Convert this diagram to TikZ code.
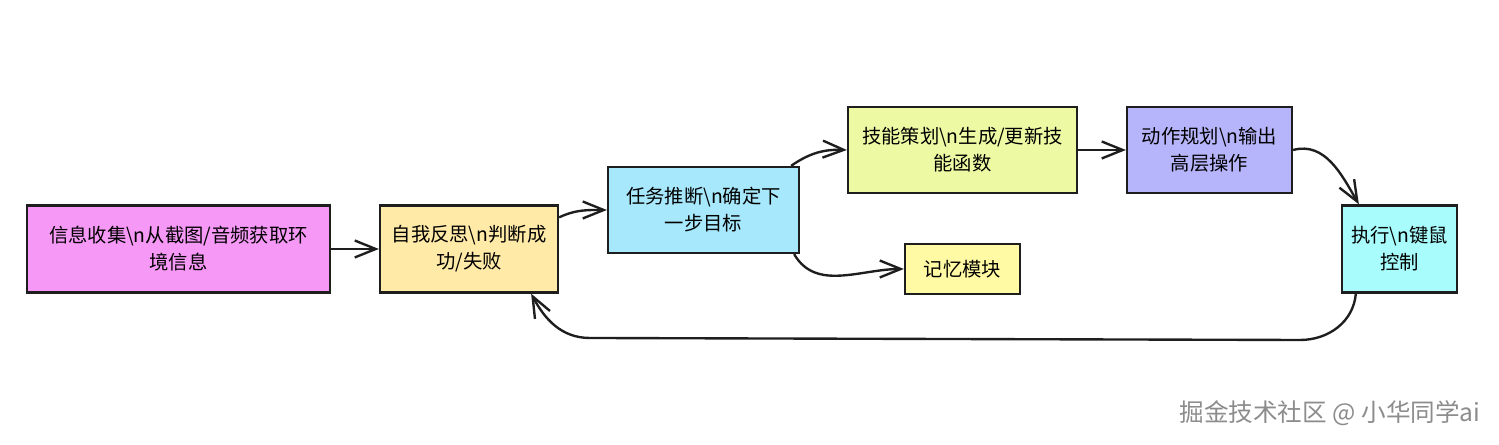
\documentclass[tikz,border=0pt]{standalone}
\usepackage{fontspec}
\setmainfont{Noto Sans CJK SC}
\usetikzlibrary{arrows.meta}

\definecolor{infocol}{RGB}{246,152,246}
\definecolor{reflectcol}{RGB}{255,234,167}
\definecolor{taskcol}{RGB}{167,232,252}
\definecolor{skillcol}{RGB}{238,250,163}
\definecolor{actioncol}{RGB}{182,180,250}
\definecolor{execcol}{RGB}{168,252,252}
\definecolor{memcol}{RGB}{255,250,163}
\definecolor{inkcol}{RGB}{30,30,30}

\begin{document}
\begin{tikzpicture}[x=0.02cm, y=0.02cm,
    font=\fontsize{11}{15.3}\selectfont,
    stage/.style={draw=inkcol, line width=1.3pt, align=center, inner sep=2pt, minimum height=1.74cm},
    flow/.style={draw=inkcol, line width=1.35pt, -{Straight Barb[length=4.2mm,width=3.4mm]}}
    ]
    \useasboundingbox (0,0) rectangle (1499,445);

    \node[stage, fill=infocol, minimum width=6.06cm] (info) at (178.5,196)
        {信息收集\textbackslash n从截图/音频获取环\\境信息};
    \node[stage, fill=reflectcol, minimum width=3.56cm] (reflect) at (469,196)
        {自我反思\textbackslash n判断成\\功/失败};
    \node[stage, fill=taskcol, minimum width=3.82cm, minimum height=1.72cm] (task) at (703.5,235)
        {任务推断\textbackslash n确定下\\一步目标};
    \node[stage, fill=skillcol, minimum width=4.58cm, minimum height=1.72cm] (skill) at (962.5,295)
        {技能策划\textbackslash n生成/更新技\\能函数};
    \node[stage, fill=actioncol, minimum width=3.3cm, minimum height=1.72cm] (action) at (1209.5,295)
        {动作规划\textbackslash n输出\\高层操作};
    \node[stage, fill=execcol, minimum width=2.3cm] (exec) at (1399.5,196)
        {执行\textbackslash n键鼠\\控制};
    \node[stage, fill=memcol, minimum width=2.3cm, minimum height=1cm] (memory) at (962.5,176)
        {记忆模块};

    \coordinate (loopR) at (1300,105);
    \coordinate (loopL) at (590,107);

    \draw[flow] (info) -- (reflect);
    \draw[flow] ([yshift=-0.26cm]reflect.north east) to[out=25,in=180] (task.west);
    \draw[flow] ([xshift=-0.18cm]task.north east) to[out=35,in=178] (skill.west);
    \draw[flow] (skill) -- (action);
    \draw[flow] (action.east) to[out=15,in=120] ([xshift=0.36cm]exec.north west);
    \draw[flow] ([xshift=-0.12cm]task.south east) to[out=-60,in=180] (memory.west);
    %
    \draw[flow] ([xshift=0.3cm]exec.south west) to[out=-95,in=0] (loopR) -- (loopL)
        to[out=180,in=-62] ([xshift=-0.56cm]reflect.south east);

    \node[text=black!45, font=\fontsize{14}{16}\selectfont] (mark) at (1330,32)
        {掘金技术社区 @ 小华同学ai};
\end{tikzpicture}
\end{document}
